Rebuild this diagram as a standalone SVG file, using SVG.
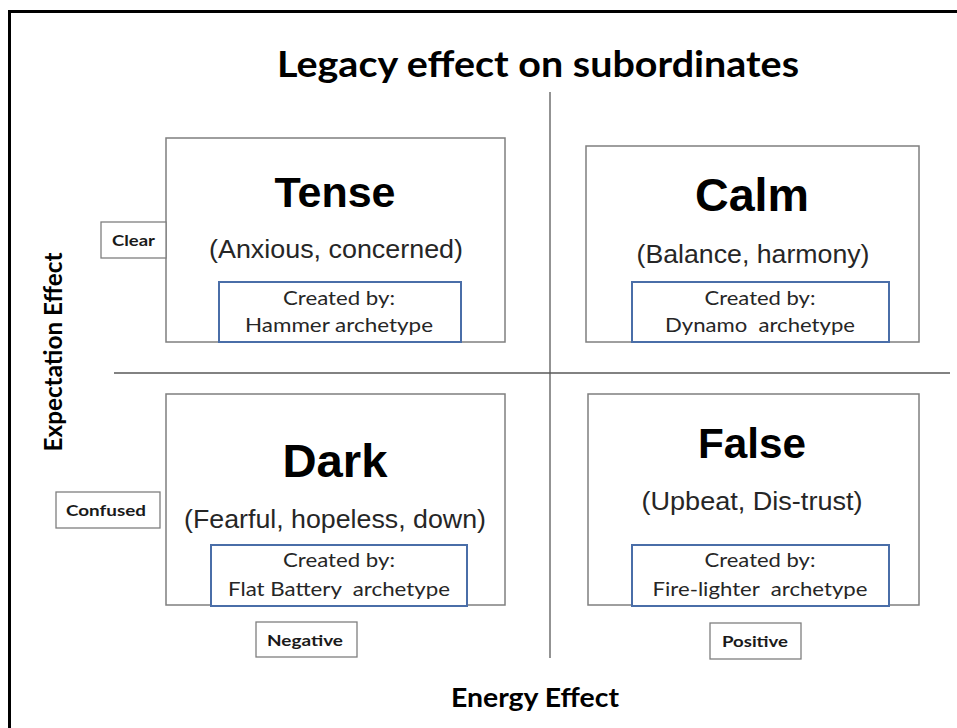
<svg xmlns="http://www.w3.org/2000/svg" width="957" height="728" viewBox="0 0 957 728">
<style>
.frame{fill:none;stroke:#000;stroke-width:3}
.quad{fill:#fff;stroke:#7f7f7f;stroke-width:1.5}
.src{fill:#fff;stroke:#4a6ea8;stroke-width:2}
.tag{fill:#fff;stroke:#7f7f7f;stroke-width:1.3}
.axis{stroke:#595959;stroke-width:1.3;fill:none}
.big{font-family:"Liberation Sans",Arial,sans-serif;font-weight:bold;fill:#000;text-anchor:middle}
.sub{font-family:"Liberation Sans",Arial,sans-serif;font-size:26px;fill:#262626;text-anchor:middle}
.cb{font-family:Lato,"Open Sans",sans-serif;font-size:19px;fill:#262626;text-anchor:middle;white-space:pre}
.lab{font-family:Lato,"Open Sans",sans-serif;font-size:16px;font-weight:bold;fill:#1a1a1a;text-anchor:middle}
.ttl{font-family:Lato,"Open Sans",sans-serif;font-weight:bold;fill:#000;text-anchor:middle}
</style>
<rect class="frame" x="9.5" y="11.5" width="960" height="730"/>
<text class="ttl" x="538" y="77" font-size="36" textLength="522" lengthAdjust="spacingAndGlyphs">Legacy effect on subordinates</text>
<g id="connectors">
<line class="axis" x1="550" y1="92" x2="550" y2="658"/>
<line class="axis" x1="114" y1="373" x2="950" y2="373"/>
</g>
<g id="tense">
<rect class="quad" x="166" y="138" width="339" height="204"/>
<text class="big" x="335" y="207" font-size="42" textLength="121" lengthAdjust="spacingAndGlyphs">Tense</text>
<text class="sub" x="336" y="258" textLength="254" lengthAdjust="spacingAndGlyphs">(Anxious, concerned)</text>
<rect class="src" x="219" y="282" width="242" height="60"/>
<text class="cb" x="339" y="305" textLength="112" lengthAdjust="spacingAndGlyphs">Created by:</text>
<text class="cb" x="339" y="332" textLength="188" lengthAdjust="spacingAndGlyphs">Hammer archetype</text>
</g>
<g id="calm">
<rect class="quad" x="586" y="146" width="333" height="196"/>
<text class="big" x="752" y="211" font-size="47" textLength="114" lengthAdjust="spacingAndGlyphs">Calm</text>
<text class="sub" x="753" y="263" textLength="233" lengthAdjust="spacingAndGlyphs">(Balance, harmony)</text>
<rect class="src" x="632" y="282" width="257" height="60"/>
<text class="cb" x="760" y="305" textLength="111" lengthAdjust="spacingAndGlyphs">Created by:</text>
<text class="cb" x="760" y="332" textLength="190" lengthAdjust="spacingAndGlyphs">Dynamo  archetype</text>
</g>
<g id="dark">
<rect class="quad" x="166" y="394" width="339" height="211"/>
<text class="big" x="335" y="477" font-size="47" textLength="105" lengthAdjust="spacingAndGlyphs">Dark</text>
<text class="sub" x="335" y="528" textLength="302" lengthAdjust="spacingAndGlyphs">(Fearful, hopeless, down)</text>
<rect class="src" x="211" y="545" width="256" height="61"/>
<text class="cb" x="339" y="567" textLength="112" lengthAdjust="spacingAndGlyphs">Created by:</text>
<text class="cb" x="339" y="596" textLength="222" lengthAdjust="spacingAndGlyphs">Flat Battery  archetype</text>
</g>
<g id="false">
<rect class="quad" x="588" y="394" width="331" height="211"/>
<text class="big" x="752" y="458" font-size="42" textLength="108" lengthAdjust="spacingAndGlyphs">False</text>
<text class="sub" x="752" y="510" textLength="221" lengthAdjust="spacingAndGlyphs">(Upbeat, Dis-trust)</text>
<rect class="src" x="632" y="545" width="257" height="61"/>
<text class="cb" x="760" y="567" textLength="111" lengthAdjust="spacingAndGlyphs">Created by:</text>
<text class="cb" x="760" y="596" textLength="215" lengthAdjust="spacingAndGlyphs">Fire-lighter  archetype</text>
</g>
<g id="clear">
<rect class="tag" x="101" y="222" width="65" height="36"/>
<text class="lab" x="133.5" y="246" textLength="43" lengthAdjust="spacingAndGlyphs">Clear</text>
</g>
<g id="confused">
<rect class="tag" x="56" y="492" width="104" height="36"/>
<text class="lab" x="106" y="516" textLength="80" lengthAdjust="spacingAndGlyphs">Confused</text>
</g>
<g id="negative">
<rect class="tag" x="256" y="622" width="101" height="35"/>
<text class="lab" x="305" y="646" textLength="76" lengthAdjust="spacingAndGlyphs">Negative</text>
</g>
<g id="positive">
<rect class="tag" x="710" y="623" width="91" height="36"/>
<text class="lab" x="755" y="647" textLength="66" lengthAdjust="spacingAndGlyphs">Positive</text>
</g>
<g id="axis-labels">
<text class="ttl" x="535" y="707" font-size="26" textLength="168" lengthAdjust="spacingAndGlyphs">Energy Effect</text>
<text class="ttl" transform="translate(62,352) rotate(-90)" x="0" y="0" font-size="25" textLength="199" lengthAdjust="spacingAndGlyphs">Expectation Effect</text>
</g>
</svg>
